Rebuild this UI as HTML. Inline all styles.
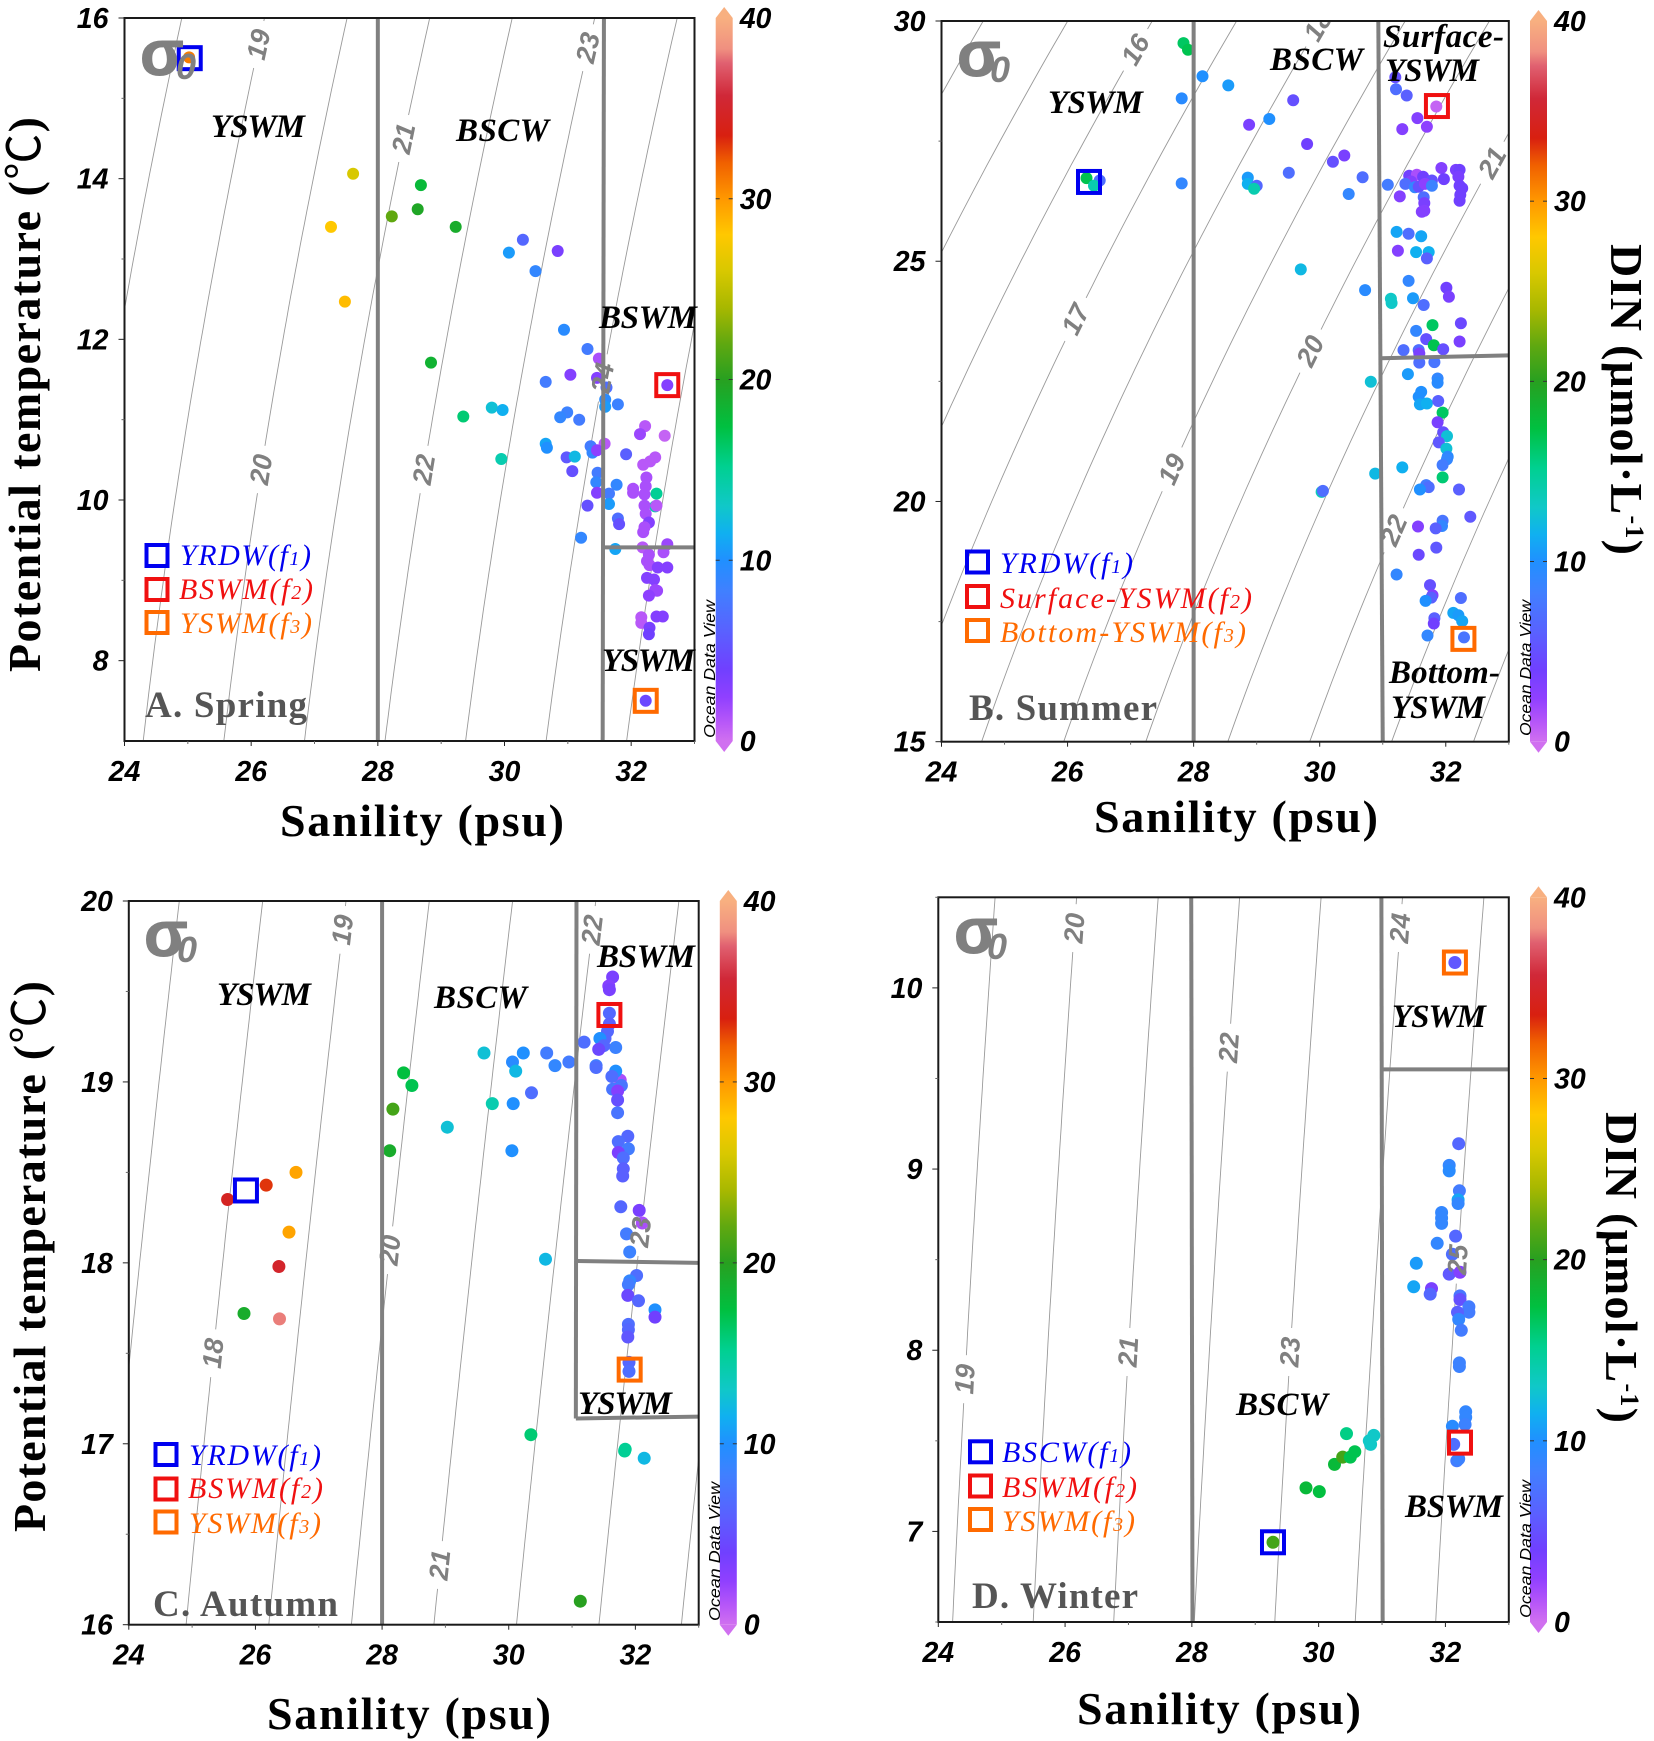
<!DOCTYPE html>
<html lang="en">
<head>
<meta charset="utf-8">
<title>T-S diagrams with DIN by season</title>
<style>
html,body{margin:0;padding:0;background:#fff;width:1654px;height:1741px;overflow:hidden}
svg{display:block;position:absolute;left:0;top:0}
text{font-family:"Liberation Sans","Noto Sans CJK SC",sans-serif}
.axt{font-family:"Liberation Serif","Noto Sans CJK SC",serif;font-weight:700;font-size:46px;fill:#000}
.deg{font-family:"Noto Sans CJK SC",sans-serif;font-weight:400}
.wm{font-family:"Liberation Serif",serif;font-weight:700;font-style:italic;font-size:33px;fill:#000}
.pl{font-family:"Liberation Serif",serif;font-weight:700;font-size:37px;fill:#555}
.lg{font-family:"Liberation Serif",serif;font-style:italic;font-size:30px}
.sb{font-size:20px}
.sig{font-weight:700;font-size:64px;fill:#808080;stroke:#808080;stroke-width:1}
.sig0{font-weight:700;font-style:italic;font-size:36px;fill:#808080}
.odv{font-style:italic;font-size:16px;fill:#000}
.tick{font-weight:700;font-style:italic;font-size:28.500px;fill:#000}
.iso{font-weight:700;font-size:27px;fill:#808080;font-style:italic}
.lb{fill:none;stroke-width:4}
.blue{fill:#0000f0;stroke:none}.red{fill:#f01010;stroke:none}.org{fill:#ff6a00;stroke:none}
</style>
</head>
<body>
<svg id="fig" xmlns="http://www.w3.org/2000/svg" width="1654" height="1741" viewBox="0 0 1654 1741">
<defs id="defs"></defs>

<g id="panel-a">
<g id="marks-a"></g>
<text class="sig" x="140" y="75">σ</text>
<text class="sig0" x="176" y="79">0</text>
<text class="wm" x="211" y="137" textLength="94">YSWM</text>
<text class="wm" x="456" y="141" textLength="93">BSCW</text>
<text class="wm" x="599" y="328" textLength="98">BSWM</text>
<text class="wm" x="602" y="671" textLength="93">YSWM</text>
<rect class="lb" x="146.500" y="545" width="21" height="21" stroke="#0000f0"/>
<rect class="lb" x="146.500" y="579" width="21" height="21" stroke="#f01010"/>
<rect class="lb" x="146.500" y="612" width="21" height="21" stroke="#ff6a00"/>
<text class="lg blue" x="180" y="565" textLength="131">YRDW(f<tspan class="sb">1</tspan>)</text>
<text class="lg red" x="179" y="599" textLength="134">BSWM(f<tspan class="sb">2</tspan>)</text>
<text class="lg org" x="180" y="633" textLength="132">YSWM(f<tspan class="sb">3</tspan>)</text>
<text class="pl" x="145" y="717" textLength="162">A. Spring</text>
<text class="axt" x="280" y="836" textLength="284">Sanility (psu)</text>
<text class="axt" transform="translate(40,672) rotate(-90)" textLength="555">Potential temperature (<tspan class="deg">℃</tspan>)</text>
<text class="odv" transform="translate(715,738) rotate(-90)" textLength="138" lengthAdjust="spacingAndGlyphs">Ocean Data View</text>
</g>

<g id="panel-b">
<g id="marks-b"></g>
<text class="sig" x="957" y="76">σ</text>
<text class="sig0" x="990" y="82">0</text>
<text class="wm" x="1048" y="113" textLength="95">YSWM</text>
<text class="wm" x="1270" y="70" textLength="93">BSCW</text>
<text class="wm" x="1383" y="47" textLength="121">Surface-</text>
<text class="wm" x="1385" y="81" textLength="94">YSWM</text>
<text class="wm" x="1389" y="683" textLength="111">Bottom-</text>
<text class="wm" x="1391" y="718" textLength="94">YSWM</text>
<rect class="lb" x="967" y="551.500" width="21" height="21" stroke="#0000f0"/>
<rect class="lb" x="967" y="586" width="21" height="21" stroke="#f01010"/>
<rect class="lb" x="967" y="620" width="21" height="21" stroke="#ff6a00"/>
<text class="lg blue" x="1000" y="573" textLength="133">YRDW(f<tspan class="sb">1</tspan>)</text>
<text class="lg red" x="1000" y="608" textLength="252">Surface-YSWM(f<tspan class="sb">2</tspan>)</text>
<text class="lg org" x="1000" y="642" textLength="246">Bottom-YSWM(f<tspan class="sb">3</tspan>)</text>
<text class="pl" x="969" y="720" textLength="188">B. Summer</text>
<text class="axt" x="1094" y="832" textLength="284">Sanility (psu)</text>
<text class="odv" transform="translate(1531,736) rotate(-90)" textLength="136" lengthAdjust="spacingAndGlyphs">Ocean Data View</text>
<text class="axt" transform="translate(1611,244) rotate(90)" textLength="311">DIN (μmol·L<tspan font-size="26" dy="-15">-1</tspan><tspan dy="15">)</tspan></text>
</g>

<g id="panel-c">
<g id="marks-c"></g>
<text class="sig" x="144" y="956">σ</text>
<text class="sig0" x="177" y="962">0</text>
<text class="wm" x="217" y="1005" textLength="94">YSWM</text>
<text class="wm" x="434" y="1008" textLength="93">BSCW</text>
<text class="wm" x="597" y="967" textLength="98">BSWM</text>
<text class="wm" x="578" y="1414" textLength="94">YSWM</text>
<rect class="lb" x="155.500" y="1444" width="21" height="21" stroke="#0000f0"/>
<rect class="lb" x="155.500" y="1478.500" width="21" height="21" stroke="#f01010"/>
<rect class="lb" x="155.500" y="1511.500" width="21" height="21" stroke="#ff6a00"/>
<text class="lg blue" x="189" y="1465" textLength="132">YRDW(f<tspan class="sb">1</tspan>)</text>
<text class="lg red" x="188" y="1498" textLength="135">BSWM(f<tspan class="sb">2</tspan>)</text>
<text class="lg org" x="189" y="1533" textLength="132">YSWM(f<tspan class="sb">3</tspan>)</text>
<text class="pl" x="153" y="1616" textLength="185">C. Autumn</text>
<text class="axt" x="267" y="1729" textLength="284">Sanility (psu)</text>
<text class="axt" transform="translate(45,1532) rotate(-90)" textLength="551">Potential temperature (<tspan class="deg">℃</tspan>)</text>
<text class="odv" transform="translate(720,1621) rotate(-90)" textLength="139" lengthAdjust="spacingAndGlyphs">Ocean Data View</text>
</g>

<g id="panel-d">
<g id="marks-d"></g>
<text class="sig" x="954" y="953">σ</text>
<text class="sig0" x="987" y="959">0</text>
<text class="wm" x="1392" y="1027" textLength="94">YSWM</text>
<text class="wm" x="1236" y="1415" textLength="92">BSCW</text>
<text class="wm" x="1405" y="1517" textLength="98">BSWM</text>
<rect class="lb" x="970" y="1441.300" width="21" height="21" stroke="#0000f0"/>
<rect class="lb" x="970" y="1475.500" width="21" height="21" stroke="#f01010"/>
<rect class="lb" x="970" y="1509" width="21" height="21" stroke="#ff6a00"/>
<text class="lg blue" x="1002" y="1462" textLength="129">BSCW(f<tspan class="sb">1</tspan>)</text>
<text class="lg red" x="1002" y="1497" textLength="135">BSWM(f<tspan class="sb">2</tspan>)</text>
<text class="lg org" x="1002" y="1531" textLength="133">YSWM(f<tspan class="sb">3</tspan>)</text>
<text class="pl" x="972" y="1608" textLength="166">D. Winter</text>
<text class="axt" x="1077" y="1724" textLength="284">Sanility (psu)</text>
<text class="odv" transform="translate(1531,1618) rotate(-90)" textLength="138" lengthAdjust="spacingAndGlyphs">Ocean Data View</text>
<text class="axt" transform="translate(1606,1112) rotate(90)" textLength="311">DIN (μmol·L<tspan font-size="26" dy="-15">-1</tspan><tspan dy="15">)</tspan></text>
</g>
</svg>

<script>
const colorValues = [0,1,2.4,4,6,8.3,10,11.5,13,15.2,17.4,20,22,24,26,28,30,32,33.5,35.7,37.5,38.3,40];
const colorHexes = ['#d070f0','#b858f8','#9040ff','#7040ff','#5a60ff','#4080ff','#2090ff','#10b0f0','#10c8c8','#00d090','#00c040','#28a020','#60a810','#a8b800','#d8c800','#ffc800','#ff9800','#f06000','#d82010','#d02838','#e06070','#f09080','#f8b080'];
const colorbarTicks = [0,10,20,30,40];
const salinityTicks = [24,26,28,30,32];
const salinityMinorTicks = [25,27,29,31,33];

const springSalinity = [25.02,27.61,27.26,27.48,28.22,28.63,28.68,29.23,28.84,29.35,29.80,29.97,29.95,30.07,30.29,30.49,30.84,30.94,31.31,31.49,31.04,31.46,30.65,31.61,32.57,31.59,31.59,31.79,30.99,30.88,31.18,32.22,32.14,32.53,30.65,30.67,31.58,31.36,31.39,31.46,31.92,30.98,31.11,31.07,32.38,32.30,32.19,31.47,31.45,31.77,32.24,32.03,32.03,32.23,32.21,31.46,31.65,32.40,32.38,32.40,31.65,31.31,32.21,32.23,31.79,31.81,32.28,32.21,32.19,31.21,31.75,32.18,32.57,32.51,32.28,32.25,32.29,32.42,32.57,32.25,32.36,32.41,32.38,32.28,32.40,32.50,32.16,32.16,32.29,32.28,32.23];
const springTemperature = [15.51,14.06,13.40,12.47,13.53,13.62,13.92,13.40,11.71,11.04,11.15,11.12,10.51,13.08,13.24,12.85,13.10,12.12,11.88,11.76,11.56,11.52,11.47,11.40,11.43,11.25,11.16,11.19,11.09,11.03,11.00,10.92,10.82,10.80,10.70,10.65,10.70,10.67,10.59,10.62,10.57,10.53,10.54,10.36,10.53,10.48,10.44,10.34,10.22,10.19,10.28,10.14,10.09,10.17,10.07,10.09,10.08,10.08,9.92,9.93,9.95,9.93,9.93,9.83,9.77,9.70,9.72,9.66,9.60,9.53,9.39,9.41,9.45,9.35,9.32,9.24,9.19,9.16,9.16,9.03,9.01,8.87,8.88,8.81,8.55,8.55,8.54,8.47,8.41,8.33,7.50];
const springDin = [31,26,28,28.5,22,19.5,18,19,18.5,16,12.5,11.5,14,10.5,6.5,9,3.5,9.5,8,1.5,3,3,8,7,3,9.5,10.5,8.5,8.5,9,8,1,2,0.5,11,10,1,8,9,2.5,6,5.5,12,5,1,1,1,8,9,9,1.5,1.5,1.5,1.5,1.5,3,8,15,14,1,10.5,5,1.5,1.5,7,5,3,1.5,1.5,9,11,1,2,1.5,1.5,1.5,1.5,3,3,3,3,2,2,2.5,3,3,1,1,3.5,4,4.5];

const summerSalinity = [27.84,27.91,28.14,28.55,27.81,29.58,29.20,28.88,29.80,30.39,30.21,29.51,30.68,30.46,27.81,28.86,28.86,29.00,28.96,26.51,26.30,26.42,29.70,30.72,30.81,30.03,30.05,31.20,31.21,31.38,31.85,31.55,31.70,31.31,31.93,32.16,32.22,32.20,31.97,31.42,31.54,31.64,31.45,31.78,31.36,31.08,31.51,31.57,31.67,31.78,32.22,32.26,31.27,32.23,32.22,31.65,31.66,31.66,31.62,31.22,31.41,31.61,31.24,31.53,31.73,31.70,31.41,32.01,32.05,31.13,31.14,31.48,31.65,31.79,32.24,31.53,31.69,31.81,32.22,31.33,31.57,31.58,31.96,31.58,31.82,31.40,31.87,31.87,31.61,31.57,31.59,31.70,31.88,31.95,31.87,31.96,32.02,31.89,32.01,32.03,32.02,31.95,31.95,31.31,30.88,31.69,31.73,31.59,32.21,32.39,31.56,31.95,31.94,31.84,31.57,31.85,31.22,31.75,31.79,31.77,31.68,32.24,32.12,32.20,32.26,31.82,31.81,31.71,32.29];
const summerTemperature = [29.54,29.40,28.85,28.66,28.39,28.35,27.96,27.84,27.44,27.20,27.07,26.84,26.75,26.40,26.62,26.74,26.61,26.57,26.51,26.68,26.73,26.57,24.83,24.40,22.49,20.20,20.22,28.83,28.58,28.45,28.22,27.98,27.80,27.75,26.94,26.90,26.90,26.76,26.71,26.78,26.80,26.76,26.66,26.68,26.61,26.59,26.54,26.55,26.61,26.57,26.57,26.52,26.35,26.38,26.26,26.33,26.21,26.05,26.03,25.61,25.57,25.52,25.22,25.19,25.19,25.06,24.59,24.45,24.26,24.22,24.13,24.23,24.09,23.67,23.71,23.55,23.38,23.25,23.33,23.15,23.15,23.08,23.17,22.89,22.90,22.65,22.56,22.47,22.28,22.18,22.02,22.04,22.09,21.85,21.65,21.44,21.36,21.23,21.10,20.93,20.88,20.76,20.50,20.71,20.58,20.34,20.30,20.25,20.25,19.68,19.48,19.60,19.49,19.44,18.89,19.04,18.48,18.26,18.05,18.00,17.93,17.99,17.68,17.63,17.51,17.57,17.46,17.21,17.17];
const summerDin = [16.5,17,10,10.5,9.5,5,10,3.5,4,3.5,5,7,7,9,9,10.5,11.5,6.5,14,7,17,14,12,9.5,12.5,13.5,7,5,7,6,0.5,3,2.5,3,3,3.5,4,3.5,4,4,1.5,4,3,5,7,8,9,5,2.5,8.5,4,4,3,4,4,7,3.5,3,3,11,7,11,3,11.5,11.5,6,9,4,3.5,13,13,10.5,7,16.5,4.5,9,5,17,3.5,7,7,3.5,5,7,7.5,10.5,9,9.5,10,10,11,11.5,6,16.5,3.5,5,12.5,5.5,12.5,9.5,9,8,16,11.5,12,8,7,10,6,5.5,3,7.5,9,6,4.5,5.5,9,5,3,6,10,7,11,10.5,11,6,4,9,7.5];

const autumnSalinity = [25.56,26.17,26.64,26.53,26.37,25.82,26.38,28.34,28.47,28.17,28.12,29.03,29.61,29.74,30.06,30.11,30.23,30.07,30.05,30.36,30.60,30.73,30.95,30.58,30.35,31.84,31.83,32.14,31.13,31.64,31.58,31.59,31.59,31.59,31.56,31.52,31.44,31.19,31.69,31.50,31.42,31.38,31.38,31.76,31.69,31.63,31.64,31.78,31.71,31.72,31.72,31.72,31.88,31.73,31.89,31.73,31.81,31.81,31.80,31.77,32.06,32.11,31.86,31.91,32.02,31.91,31.89,31.88,32.05,32.31,32.31,31.89,31.89,31.88,31.90,31.90];
const autumnTemperature = [18.35,18.43,18.50,18.17,17.98,17.72,17.69,19.05,18.98,18.85,18.62,18.75,19.16,18.88,19.11,19.06,19.16,18.88,18.62,18.94,19.16,19.09,19.11,18.02,17.05,16.97,16.96,16.92,16.13,19.58,19.53,19.51,19.38,19.32,19.28,19.24,19.24,19.22,19.19,19.20,19.18,19.09,19.08,19.01,19.06,19.03,18.96,18.98,18.96,18.95,18.90,18.83,18.70,18.67,18.63,18.61,18.58,18.52,18.48,18.31,18.29,18.22,18.16,18.06,17.93,17.90,17.88,17.82,17.79,17.74,17.70,17.66,17.63,17.59,17.45,17.40];
const autumnDin = [34.5,33,29.5,29.5,35,19,38,17.5,17,21,19,12.5,12.5,14,9.5,12,10,10,10,7,8,9,8,12,16,15,15,12,20,3.5,3,3.5,6.5,6,6.5,6.5,10,7,8.5,6.5,4.5,8,7,1.5,10,7,7.5,7.5,8,3,5,7.5,6.5,7,8,3.5,7,6,6,6.5,3.5,1.5,8,8.5,7,9,8,4.5,6.5,10,4,7,6.5,5.5,6.5,7];

const winterSalinity = [32.15,29.28,29.80,30.01,30.25,30.38,30.50,30.57,30.44,30.80,30.82,30.87,32.21,32.06,32.06,32.22,32.20,32.20,31.94,31.94,31.94,32.16,31.87,32.11,31.54,31.50,32.06,32.23,31.78,31.76,32.23,32.23,32.37,32.37,32.19,32.21,32.25,32.22,32.22,32.32,32.32,32.31,32.11,32.13,32.18,32.21];
const winterTemperature = [10.14,6.94,7.24,7.22,7.37,7.41,7.41,7.44,7.54,7.50,7.48,7.53,9.14,9.02,8.99,8.88,8.83,8.81,8.76,8.73,8.70,8.63,8.59,8.53,8.48,8.35,8.42,8.43,8.34,8.31,8.30,8.28,8.24,8.21,8.21,8.17,8.11,7.93,7.91,7.66,7.63,7.59,7.58,7.48,7.39,7.40];
const winterDin = [5.5,21,18,17.5,18,21,17,17,15.5,13,13,13,6.5,9,9.5,8,11,9,9,9,9,6.5,9,7,10.5,11,5.5,3,3.5,6.5,7.5,5,8,8,6,9,8,8.5,8.5,9,9,8.5,9.5,7,8,8.5];

const springLevels = [18,19,20,21,22,23,24,25];
const summerLevels = [14,15,16,17,18,19,20,21,22,23,24];
const autumnLevels = [17,18,19,20,21,22,23,24];
const winterLevels = [19,20,21,22,23,24,25];

const springLabelLevels = [19,21,23,20,22,24];
const springLabelTemps = [15.67,14.5,15.63,10.38,10.38,11.52];
const summerLabelLevels = [16,18,17,19,20,21,22];
const summerLabelTemps = [29.4,29.9,23.79,20.67,23.13,27.05,19.4];
const autumnLabelLevels = [19,22,20,18,21,23];
const autumnLabelTemps = [19.84,19.84,18.07,17.5,16.33,18.17];
const winterLabelLevels = [20,24,22,19,21,23,25];
const winterLabelTemps = [10.33,10.33,9.67,7.84,7.99,7.99,8.5];

const springDividers = [[28,7,28,16],[31.55,7,31.57,16],[31.57,9.41,33,9.41]];
const summerDividers = [[28,15,28,30],[31,15,30.93,30],[30.96,22.98,33,23.04]];
const autumnDividers = [[28,16,28,20],[31.06,17.14,31.07,20],[31.07,18.01,33,18],[31.06,17.14,33,17.15]];
const winterDividers = [[28.01,6.5,27.99,10.5],[31.01,6.5,30.99,10.5],[31.01,9.55,33,9.55]];

const springEndSalinity = [25.03,32.57,32.23];
const springEndTemp = [15.5,11.43,7.5];
const summerEndSalinity = [26.34,31.86,32.28];
const summerEndTemp = [26.65,28.23,17.14];
const autumnEndSalinity = [25.85,31.59,31.91];
const autumnEndTemp = [18.4,19.37,17.41];
const winterEndSalinity = [29.28,32.23,32.15];
const winterEndTemp = [6.94,7.49,10.14];
const endColors = ['#0000f0','#f01010','#ff6a00'];
const endNames = ['f1','f2','f3'];

const panels = [
 {id:'a',name:'spring',L:124.5,R:694.5,B:741,Tp:18,tMin:7,tMax:16,yt:[8,10,12,14,16],ym:[9,11,13,15],S:springSalinity,T:springTemperature,D:springDin,lv:springLevels,ll:springLabelLevels,lt:springLabelTemps,dv:springDividers,es:springEndSalinity,et:springEndTemp,cL:715.7,r:6},
 {id:'b',name:'summer',L:941.5,R:1508.8,B:741.7,Tp:21,tMin:15,tMax:30,yt:[15,20,25,30],ym:[17.5,22.5,27.5],S:summerSalinity,T:summerTemperature,D:summerDin,lv:summerLevels,ll:summerLabelLevels,lt:summerLabelTemps,dv:summerDividers,es:summerEndSalinity,et:summerEndTemp,cL:1530,r:6},
 {id:'c',name:'autumn',L:128.8,R:698.7,B:1624.7,Tp:901,tMin:16,tMax:20,yt:[16,17,18,19,20],ym:[16.5,17.5,18.5,19.5],S:autumnSalinity,T:autumnTemperature,D:autumnDin,lv:autumnLevels,ll:autumnLabelLevels,lt:autumnLabelTemps,dv:autumnDividers,es:autumnEndSalinity,et:autumnEndTemp,cL:719.8,r:6.5},
 {id:'d',name:'winter',L:938.3,R:1508.8,B:1622,Tp:897.3,tMin:6.5,tMax:10.5,yt:[7,8,9,10],ym:[6.5,7.5,8.5,9.5,10.5],S:winterSalinity,T:winterTemperature,D:winterDin,lv:winterLevels,ll:winterLabelLevels,lt:winterLabelTemps,dv:winterDividers,es:winterEndSalinity,et:winterEndTemp,cL:1530,r:6.5}
];

const NS = 'http://www.w3.org/2000/svg';
function mk(tag, attrs, parent){
  const el = document.createElementNS(NS, tag);
  for (const k in attrs) el.setAttribute(k, attrs[k]);
  parent.appendChild(el);
  return el;
}
function sigma0(S, T){
  const rw = 999.842594 + 6.793952e-2*T - 9.09529e-3*T*T + 1.001685e-4*T*T*T - 1.120083e-6*T*T*T*T + 6.536332e-9*T*T*T*T*T;
  const A = 8.24493e-1 - 4.0899e-3*T + 7.6438e-5*T*T - 8.2467e-7*T*T*T + 5.3875e-9*T*T*T*T;
  const B = -5.72466e-3 + 1.0227e-4*T - 1.6546e-6*T*T;
  return rw + A*S + B*Math.pow(S,1.5) + 4.8314e-4*S*S - 1000;
}
function salinityAt(level, T){
  let lo = 0, hi = 45;
  for (let i = 0; i < 40; i++){
    const m = (lo+hi)/2;
    if (sigma0(m,T) < level) lo = m; else hi = m;
  }
  return (lo+hi)/2;
}
function din2color(v){
  const c = Math.max(colorValues[0], Math.min(colorValues[colorValues.length-1], v));
  let i = 0;
  while (i < colorValues.length-2 && c > colorValues[i+1]) i++;
  const f = (c-colorValues[i])/(colorValues[i+1]-colorValues[i]);
  const a = colorHexes[i], b = colorHexes[i+1];
  let out = '#';
  for (let j = 1; j < 7; j += 2){
    const x = parseInt(a.substr(j,2),16), y = parseInt(b.substr(j,2),16);
    out += Math.round(x+(y-x)*f).toString(16).padStart(2,'0');
  }
  return out;
}
const defs = document.getElementById('defs');

panels.forEach(function(p){
  const g = document.getElementById('marks-'+p.id);
  const xs = function(S){ return p.L + (S-24)/9*(p.R-p.L); };
  const ys = function(T){ return p.B - (T-p.tMin)/(p.tMax-p.tMin)*(p.B-p.Tp); };

  const clip = mk('clipPath',{id:'clip-'+p.id},defs);
  mk('rect',{x:p.L,y:p.Tp,width:p.R-p.L,height:p.B-p.Tp},clip);

  const isoG = mk('g',{'clip-path':'url(#clip-'+p.id+')'},g);
  
  
  p.lv.forEach(function(level){
    let d = '';
    for (let i = 0; i <= 60; i++){
      const T = p.tMin + (p.tMax-p.tMin)*i/60;
      d += (i?'L':'M') + xs(salinityAt(level,T)).toFixed(1) + ' ' + ys(T).toFixed(1);
    }
    const line = mk('path',{d:d,fill:'none',stroke:'#999','stroke-width':0.9},isoG);
    
    
  });
  const angles = p.ll.map(function(level, i){
    const T = p.lt[i], dT = (p.tMax-p.tMin)*0.02;
    const dx = xs(salinityAt(level,T+dT)) - xs(salinityAt(level,T-dT));
    const dy = ys(T+dT) - ys(T-dT);
    return Math.atan2(dy,dx)*180/Math.PI;
  });
  p.ll.forEach(function(level, i){
    const cx = xs(salinityAt(level,p.lt[i])), cy = ys(p.lt[i]);
    mk('rect',{x:-24,y:-6,width:48,height:12,fill:'#fff',transform:'translate('+cx.toFixed(1)+','+cy.toFixed(1)+') rotate('+angles[i].toFixed(1)+')'},isoG);
  });

  const dotG = mk('g',{},g);
  
  
  p.S.forEach(function(s, i){
    const c = mk('circle',{cx:xs(s).toFixed(1),cy:ys(p.T[i]).toFixed(1),r:p.r,fill:din2color(p.D[i])},dotG);
    
    
  });

  const labelG = mk('g',{'clip-path':'url(#clip-'+p.id+')'},g);
  
  
  p.ll.forEach(function(level, i){
    const cx = xs(salinityAt(level,p.lt[i])), cy = ys(p.lt[i]);
    const t = mk('text',{class:'iso','text-anchor':'middle','dominant-baseline':'central',transform:'translate('+cx.toFixed(1)+','+cy.toFixed(1)+') rotate('+angles[i].toFixed(1)+')'},labelG);
    
    
    t.textContent = level;
  });

  p.dv.forEach(function(v, i){
    const l = mk('line',{x1:xs(v[0]),y1:ys(v[1]),x2:xs(v[2]),y2:ys(v[3]),stroke:'#808080','stroke-width':4},g);
    
    
  });

  const frame = mk('rect',{x:p.L,y:p.Tp,width:p.R-p.L,height:p.B-p.Tp,fill:'none',stroke:'#1a1a1a','stroke-width':2},g);
  
  

  p.es.forEach(function(s, i){
    const cx = xs(s), cy = ys(p.et[i]);
    const r = mk('rect',{x:cx-11,y:cy-11,width:22,height:22,fill:'none',stroke:endColors[i],'stroke-width':4},g);
    
    
  });

  salinityTicks.forEach(function(v){
    const x = xs(v);
    const tk = mk('line',{x1:x,y1:p.B,x2:x,y2:p.B+5,stroke:'#222','stroke-width':1},g);
    
    
    const t = mk('text',{class:'tick',x:x,y:p.B+40,'text-anchor':'middle'},g);
    
    
    t.textContent = v;
  });
  salinityMinorTicks.forEach(function(v){
    const tk = mk('line',{x1:xs(v),y1:p.B,x2:xs(v),y2:p.B+3,stroke:'#666','stroke-width':1},g);
    
    
  });
  p.yt.forEach(function(v){
    const y = ys(v);
    const tk = mk('line',{x1:p.L-6,y1:y,x2:p.L,y2:y,stroke:'#222','stroke-width':1},g);
    
    
    const t = mk('text',{class:'tick',x:p.L-16,y:y+10,'text-anchor':'end'},g);
    
    
    t.textContent = v;
  });
  p.ym.forEach(function(v){
    const tk = mk('line',{x1:p.L-3,y1:ys(v),x2:p.L,y2:ys(v),stroke:'#666','stroke-width':1},g);
    
    
  });

  /* colour bar */
  const cw = 17, cL = p.cL, cR = cL + cw;
  const cy = function(v){ return p.B - v/40*(p.B-p.Tp); };
  const grad = mk('linearGradient',{id:'cb-'+p.id,gradientUnits:'userSpaceOnUse',x1:0,x2:0,y1:cy(0),y2:cy(40)},defs);
  colorValues.forEach(function(v, i){
    mk('stop',{offset:(v/40).toFixed(4),'stop-color':colorHexes[i]},grad);
  });
  const cb = mk('rect',{x:cL,y:p.Tp,width:cw,height:p.B-p.Tp,fill:'url(#cb-'+p.id+')'},g);
  
  
  const up = mk('polygon',{points:cL+','+p.Tp+' '+(cL+cw/2)+','+(p.Tp-11)+' '+cR+','+p.Tp,fill:colorHexes[colorHexes.length-1]},g);
  
  
  const dn = mk('polygon',{points:cL+','+p.B+' '+(cL+cw/2)+','+(p.B+11)+' '+cR+','+p.B,fill:colorHexes[0]},g);
  
  
  colorbarTicks.forEach(function(v){
    const y = cy(v);
    if (v > 0 && v < 40){
      const a = mk('line',{x1:cL,y1:y,x2:cL+4,y2:y,stroke:'#333','stroke-width':1},g);
      
      
      const b = mk('line',{x1:cR-4,y1:y,x2:cR,y2:y,stroke:'#333','stroke-width':1},g);
      
      
    }
    const t = mk('text',{class:'tick',x:cR+7,y:y+10},g);
    
    
    t.textContent = v;
  });
});
</script>
</body>
</html>
